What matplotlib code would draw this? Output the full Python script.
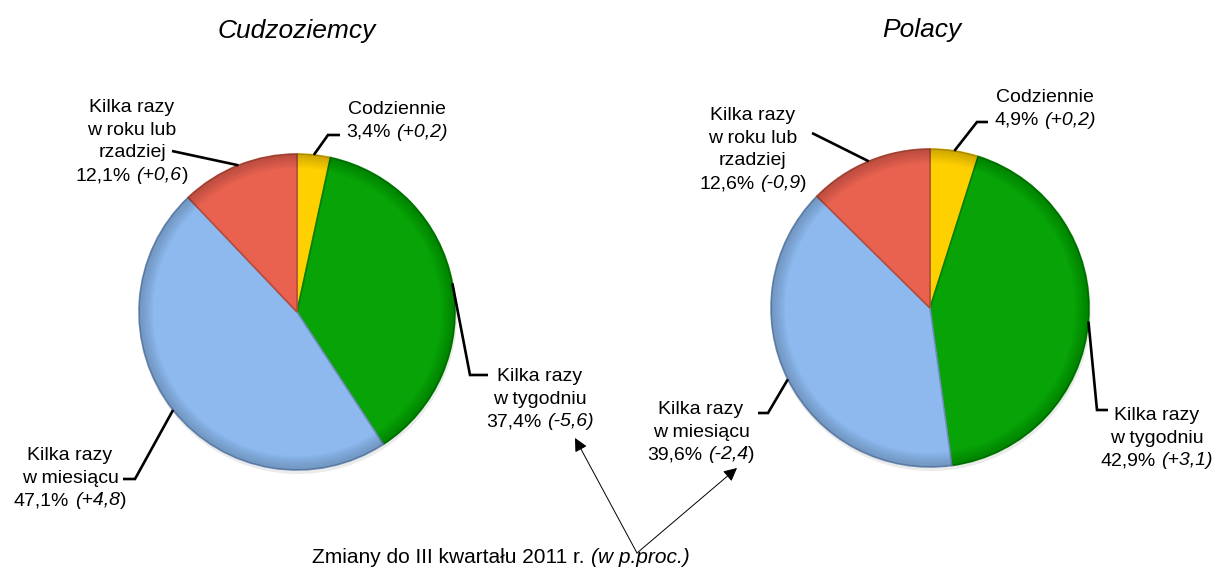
import numpy as np
import matplotlib.pyplot as plt
from matplotlib.patches import Wedge, Circle
from matplotlib import colors as mcolors

plt.rcParams['font.family'] = ['Liberation Sans', 'DejaVu Sans']

W, H = 1217, 574

categories = ['Codziennie', 'Kilka razy\nw tygodniu', 'Kilka razy\nw miesiącu',
              'Kilka razy\nw roku lub\nrzadziej']
foreign_share = [3.4, 37.4, 47.1, 12.1]
foreign_change = [0.2, -5.6, 4.8, 0.6]
polish_share = [4.9, 42.9, 39.6, 12.6]
polish_change = [0.2, 3.1, -2.4, -0.9]
titles = ['Cudzoziemcy', 'Polacy']
note = 'Zmiany do III kwartału 2011 r.'
note_it = '(w p.proc.)'
slice_colors = ['#FFD000', '#07A307', '#8DB9EE', '#E8624F']
paren_upright = [False, False, True, True]   # closing bracket not italic

# layout in pixels from the top-left corner
left = dict(center=(297, 312), radius=158, title=(297, 38),
            labels=[(397, 107), (540, 374), (70, 453), (132, 105)],
            leaders=[[(328, 135), (340, 135)], [(470, 375), (488, 375)],
                     [(135, 479), (123, 479)], [(172, 151)]])
right = dict(center=(930, 308), radius=159, title=(922, 37),
             labels=[(1045, 95), (1157, 413), (701, 407), (753, 113)],
             leaders=[[(977, 122), (988, 122)], [(1097, 410), (1108, 410)],
                      [(768, 413), (758, 413)], [(812, 133)]])

FS = 14
LS = 22.7


def P(x, y):
    return x, H - y


fig = plt.figure(figsize=(W / 100, H / 100), dpi=100)
ax = fig.add_axes([0, 0, 1, 1])
renderer = fig.canvas.get_renderer()


def fmt(v, sign=False):
    s = f"{v:+.1f}" if sign else f"{v:.1f}"
    return s.replace('.', ',')


def mixed_line(xc, ypx, parts, size=FS):
    # parts: list of (text, style, gap_before)
    texts = []
    for s, st, g in parts:
        t = ax.text(0, H - ypx - 7, s, fontsize=size, style=st, ha='left', va='baseline')
        texts.append((t, g))
    widths = [t.get_window_extent(renderer).width for t, g in texts]
    total = sum(widths) + sum(g for t, g in texts)
    x = xc - total / 2
    for (t, g), w in zip(texts, widths):
        x += g
        t.set_x(x)
        x += w


def draw_pie(shares, changes, lay, title):
    cx, cy = P(*lay['center'])
    r = lay['radius']
    shadow = Circle((cx + 1, cy - 3), r + 1, color='#000000', alpha=0.08, lw=0, zorder=0)
    ax.add_patch(shadow)
    wedges, _ = ax.pie(shares, colors=slice_colors, startangle=90, counterclock=False,
                       center=(cx, cy), radius=r, wedgeprops=dict(linewidth=1.2))
    for w, c in zip(wedges, slice_colors):
        dark = np.array(mcolors.to_rgb(c)) * 0.78
        w.set_edgecolor(dark)
        for k in range(1, 9):
            ax.add_patch(Wedge((cx, cy), r, w.theta1, w.theta2, width=r * 0.011 * k,
                               facecolor='black', alpha=0.022, lw=0, zorder=w.get_zorder() + 0.1))
    # leaders from the slice middle on the rim
    for w, pts in zip(wedges, lay['leaders']):
        a = np.deg2rad((w.theta1 + w.theta2) / 2)
        xs = [cx + r * np.cos(a)] + [p[0] for p in pts]
        ys = [cy + r * np.sin(a)] + [H - p[1] for p in pts]
        ax.plot(xs, ys, color='black', lw=1.9, solid_capstyle='butt',
                solid_joinstyle='miter', zorder=5)
    for cat, s, ch, up, (lx, ly) in zip(categories, shares, changes, paren_upright, lay['labels']):
        lines = cat.split('\n')
        for i, line in enumerate(lines):
            ax.text(lx, H - (ly + i * LS) - 7, line, fontsize=FS, ha='center', va='baseline')
        yl = ly + len(lines) * LS
        if up:
            parts = [(fmt(s) + '%', 'normal', 0), ('(' + fmt(ch, True), 'italic', 5.4),
                     (')', 'normal', 0)]
        else:
            parts = [(fmt(s) + '%', 'normal', 0), ('(' + fmt(ch, True) + ')', 'italic', 5.4)]
        mixed_line(lx, yl, parts)
    tx, ty = lay['title']
    ax.text(tx, H - ty, title, fontsize=19, style='italic', ha='center', va='baseline')


draw_pie(foreign_share, foreign_change, left, titles[0])
draw_pie(polish_share, polish_change, right, titles[1])

# note with arrows pointing to the changes
mixed_line(501, 556, [(note, 'normal', 0), (note_it, 'italic', 5.8)], size=15)
apex = P(637, 553)
for tip in [P(575, 438), P(737, 468)]:
    ax.annotate('', xy=tip, xytext=apex,
                arrowprops=dict(arrowstyle='-|>', lw=0.7, color='black',
                                mutation_scale=20, shrinkA=0, shrinkB=0))

ax.set_xlim(0, W)
ax.set_ylim(0, H)
ax.set_aspect('auto')
ax.axis('off')
fig.savefig('out.png', dpi=100)
